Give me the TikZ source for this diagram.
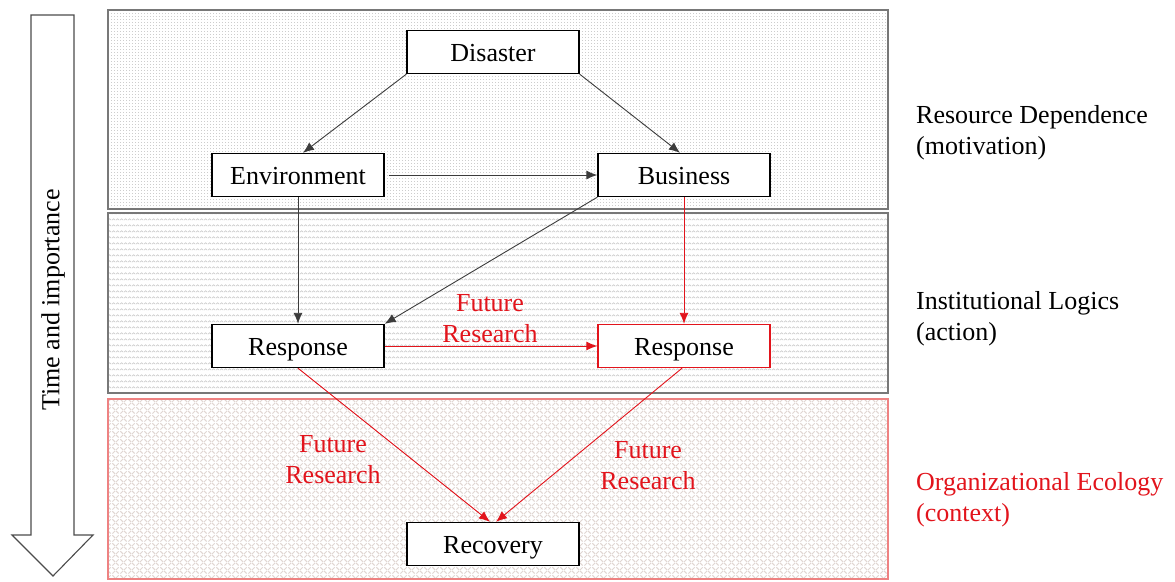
\documentclass[tikz,border=0pt]{standalone}
\usepackage{fontspec}
\setmainfont{Liberation Serif}
\usetikzlibrary{arrows.meta,calc,patterns.meta}

\definecolor{frame}{RGB}{120,120,120}
\definecolor{linkgray}{RGB}{60,60,60}
\definecolor{accent}{RGB}{226,20,28}
\definecolor{ecoframe}{RGB}{238,130,130}
\definecolor{texgray}{RGB}{205,205,205}
\definecolor{texwarm}{RGB}{224,214,210}

% fine dot raster for the top band
\tikzdeclarepattern{name=finedots, type=uncolored,
  bounding box={(0pt,0pt) and (3pt,3pt)}, tile size={(3pt,3pt)},
  code={\fill (0pt,0pt) rectangle (1.2pt,1.2pt);}}
% rows of small zigzags for the middle band
\tikzdeclarepattern{name=zigrows, type=uncolored,
  bounding box={(0pt,0pt) and (4pt,6pt)}, tile size={(4pt,6pt)},
  code={\draw[line width=0.8pt] (0pt,1pt) -- (2pt,2.6pt) -- (4pt,1pt);}}
% woven diagonals for the bottom band
\tikzdeclarepattern{name=weave, type=uncolored,
  bounding box={(0pt,0pt) and (8pt,8pt)}, tile size={(8pt,8pt)},
  code={\draw[line width=1.1pt] (0.5pt,0.5pt) -- (3.5pt,3.5pt);
        \draw[line width=1.1pt] (4.5pt,4.5pt) -- (7.5pt,7.5pt);
        \draw[line width=1.1pt] (4.5pt,3.5pt) -- (7.5pt,0.5pt);
        \draw[line width=1.1pt] (0.5pt,7.5pt) -- (3.5pt,4.5pt);}}

\tikzset{
  txt/.style={font=\fontsize{26}{31}\selectfont},
  box/.style={txt, draw=black, line width=1.4pt, fill=white,
    minimum width=172pt, minimum height=43pt, inner sep=0pt,
    text height=19pt, text depth=0pt},
  redbox/.style={box, draw=accent},
  link/.style={draw=linkgray, line width=0.9pt, -{Latex[length=11pt,width=9pt]}},
  redlink/.style={draw=accent, line width=0.9pt, -{Latex[length=11pt,width=9pt]}},
  band/.style={line width=1.2pt},
  note/.style={txt, align=center, text=accent},
  side/.style={txt, align=left, anchor=west, inner sep=0pt},
}

\begin{document}
\begin{tikzpicture}[x=1pt,y=-1pt]
\useasboundingbox (0,0) rectangle (1175,581);

% three horizontal bands
\fill[white] (108,10) rectangle (888,209);
\fill[pattern={finedots}, pattern color=texgray] (108,10) rectangle (888,209);
\draw[band, draw=frame] (108,10) rectangle (888,209);

\fill[white] (108,213) rectangle (888,393);
\fill[pattern={zigrows}, pattern color=texgray] (108,213) rectangle (888,393);
\draw[band, draw=frame] (108,213) rectangle (888,393);

\fill[white] (108,399) rectangle (888,579);
\fill[pattern={weave}, pattern color=texwarm] (108,399) rectangle (888,579);
\draw[band, draw=ecoframe] (108,399) rectangle (888,579);

% time axis arrow
\draw[line width=1.1pt, draw=black!70, fill=white]
  (31,15) -- (74,15) -- (74,535) -- (93,535) -- (53,576) -- (12,535) -- (31,535) -- cycle;
\node[txt, rotate=90] (axis) at (53,300) {Time and importance};

% boxes
\node[box]    (dis) at (493,52)  {Disaster};
\node[box]    (env) at (298,175) {Environment};
\node[box]    (bus) at (684,175) {Business};
\node[box]    (r1)  at (298,346) {Response};
\node[redbox] (r2)  at (684,346) {Response};
\node[box]    (rec) at (493,544) {Recovery};

% connectors
\draw[link] (dis.south west) -- ($(env.north)+(5,0)$);
\draw[link] (dis.south east) -- ($(bus.north)+(-4,0)$);
\draw[link] ($(env.east)+(4,0)$) -- (bus.west);
\draw[link] (env.south) -- (r1.north);
\draw[link] (bus.south west) -- (r1.north east);
\draw[redlink] (bus.south) -- (r2.north);
\draw[redlink] (r1.east) -- (r2.west);
\draw[redlink] (r1.south) -- ($(rec.north)+(-3,0)$);
\draw[redlink] ($(r2.south)+(-2,0)$) -- ($(rec.north)+(3,0)$);

% connector labels
\node[note] (fr1) at (490,319) {Future\\Research};
\node[note] (fr2) at (333,460) {Future\\Research};
\node[note] (fr3) at (648,466) {Future\\Research};

% band titles
\node[side] (t1) at (916,133) {Resource Dependence\\(motivation)};
\node[side] (t2) at (916,319) {Institutional Logics\\(action)};
\node[side, text=accent] (t3) at (916,500) {Organizational Ecology\\(context)};
\end{tikzpicture}
\end{document}
